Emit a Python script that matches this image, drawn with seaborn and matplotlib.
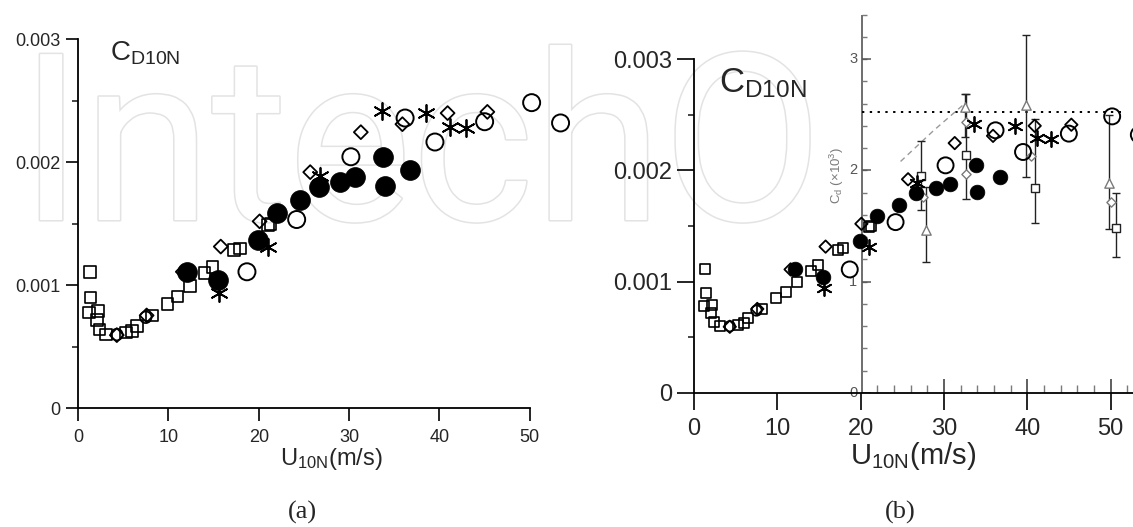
import numpy as np
import pandas as pd
import seaborn as sns
import matplotlib.pyplot as plt
import matplotlib.patheffects as pe
from matplotlib.patches import Rectangle
from matplotlib.ticker import MultipleLocator

# drag coefficient data, C_D10N in units of 1e-3, wind speed in m/s
sq_u = [1.3, 1.4, 1.2, 2.2, 2.1, 2.4, 3.1, 5.3, 6.0, 6.5, 8.2, 9.9, 11.0, 12.4, 14.0, 14.9, 17.3, 17.9, 21.0, 21.3]
sq_cd = [1.11, 0.90, 0.78, 0.79, 0.72, 0.64, 0.60, 0.615, 0.63, 0.67, 0.755, 0.85, 0.91, 0.995, 1.10, 1.15, 1.285, 1.30, 1.49, 1.50]

dia_u = [4.3, 7.6, 11.6, 15.8, 20.1, 25.7, 31.3, 35.9, 40.9, 45.3]
dia_cd = [0.595, 0.755, 1.11, 1.315, 1.52, 1.92, 2.245, 2.31, 2.40, 2.41]

circ_u = [18.7, 24.2, 30.2, 36.2, 39.5, 45.0, 50.2, 53.4]
circ_cd = [1.11, 1.535, 2.045, 2.36, 2.165, 2.33, 2.485, 2.32]

small_circ_u = [4.3, 7.5]
small_circ_cd = [0.60, 0.74]

dot_u = [12.1, 15.5, 19.9, 22.0, 24.6, 26.7, 29.0, 30.7, 33.8, 34.0, 36.7]
dot_cd = [1.11, 1.045, 1.365, 1.59, 1.69, 1.80, 1.84, 1.88, 2.045, 1.81, 1.94]

star_u = [15.6, 21.0, 26.8, 33.6, 38.5, 41.2, 42.9]
star_cd = [0.94, 1.31, 1.89, 2.42, 2.40, 2.29, 2.28]

# scanned comparison plot pasted into panel (b), Cd x 10^3
ov_sq_u = [27.3, 32.7, 40.9, 50.7]
ov_sq_cd = [1.95, 2.14, 1.84, 1.48]
ov_sq_lo = [1.64, 1.74, 1.53, 1.22]
ov_sq_hi = [2.26, 2.69, 2.46, 1.80]

ov_tri_u = [27.9, 32.5, 39.9, 49.8]
ov_tri_cd = [1.46, 2.57, 2.59, 1.89]
ov_tri_lo = [1.18, 2.30, 1.94, 1.47]
ov_tri_hi = [1.85, 2.69, 3.22, 2.50]

ov_dia_u = [27.5, 32.6, 32.6, 40.4, 50.1]
ov_dia_cd = [1.76, 2.43, 1.97, 2.13, 1.72]

ov_ref_level = 2.52
ov_line_u = [24.8, 28.8, 32.5]
ov_line_cd = [2.08, 2.36, 2.60]

yticks = [0, 1, 2, 3]
ytick_labels = ['0', '0.001', '0.002', '0.003']
xticks = [0, 10, 20, 30, 40, 50]

sns.set_style('ticks')
plt.rcParams['font.family'] = ['Liberation Sans', 'DejaVu Sans']
plt.rcParams['mathtext.default'] = 'regular'

fig = plt.figure(figsize=(11.33, 5.27), dpi=100)
fig.patch.set_facecolor('white')

# watermark behind both panels (the rest of it is hidden under the pasted plot)
fig.text(0.017, 0.5825, 'IntechO', family='Roboto', fontsize=168, color='white',
         va='baseline', ha='left', zorder=-1,
         path_effects=[pe.withStroke(linewidth=2.2, foreground='#e3e3e3')])

ax_a = fig.add_axes([0.0688, 0.2252, 0.4467, 0.7469])
ax_b = fig.add_axes([0.6125, 0.2543, 0.3875, 0.7287])


def draw_data(ax, sz):
    sns.scatterplot(x=sq_u, y=sq_cd, ax=ax, marker='s', s=sz['sq'], facecolor='none',
                    edgecolor='black', linewidth=1.2, zorder=4)
    sns.scatterplot(x=dia_u, y=dia_cd, ax=ax, marker='D', s=sz['dia'], facecolor='none',
                    edgecolor='black', linewidth=1.3, zorder=4)
    sns.scatterplot(x=small_circ_u, y=small_circ_cd, ax=ax, marker='o', s=sz['dia'] * 1.4,
                    facecolor='none', edgecolor='black', linewidth=1.2, zorder=4)
    sns.scatterplot(x=circ_u, y=circ_cd, ax=ax, marker='o', s=sz['circ'], facecolor='none',
                    edgecolor='black', linewidth=1.4, zorder=4)
    sns.scatterplot(x=dot_u, y=dot_cd, ax=ax, marker='o', s=sz['dot'], color='black',
                    edgecolor='black', linewidth=0.5, zorder=5)
    sns.scatterplot(x=star_u, y=star_cd, ax=ax, marker=(6, 2, 0), s=sz['star'], color='black',
                    linewidth=1.3, zorder=5)


def style_axes(ax, xmax, ymax, fs_tick, fs_lab, tick_len, minor_len, pad_x):
    ax.set_facecolor('none')
    ax.set_xlim(0, xmax)
    ax.set_ylim(0, ymax)
    ax.set_xticks(xticks)
    ax.set_yticks(yticks)
    ax.set_yticklabels(ytick_labels)
    ax.yaxis.set_minor_locator(MultipleLocator(0.5))
    ax.tick_params(axis='both', which='major', direction='out', length=tick_len, width=1.2,
                   labelsize=fs_tick, color='black')
    ax.tick_params(axis='x', pad=pad_x)
    ax.tick_params(axis='y', which='minor', direction='out', length=minor_len, width=1.2)
    sns.despine(ax=ax)
    for side in ['left', 'bottom']:
        ax.spines[side].set_linewidth(1.3)
        ax.spines[side].set_color('black')
    ax.spines['left'].set_bounds(0, 3)
    ax.set_xlabel('U$_{10N}$(m/s)', fontsize=fs_lab, labelpad=0)
    ax.set_ylabel('')


# panel (a)
draw_data(ax_a, {'sq': 70, 'dia': 50, 'circ': 150, 'dot': 205, 'star': 150})
style_axes(ax_a, 56, 3.2, 13, 17, 9, 4.5, 6)
ax_a.spines['bottom'].set_bounds(0, 50)
ax_a.text(3.5, 2.83, 'C$_{D10N}$', fontsize=20)

# panel (b): pasted comparison figure underneath the data
ax_b.add_patch(Rectangle((17.2, 0.01), 40, 3.6, facecolor='white', edgecolor='none', zorder=1))
gray = '#7a7a7a'
ax_b.vlines(20.2, 0, 3.40, color='#555555', lw=1.2, zorder=2)
minor_y = np.arange(0, 3.41, 0.2)
ax_b.hlines(minor_y, 20.2, 20.8, color=gray, lw=1.0, zorder=2)
ax_b.hlines(yticks, 20.2, 21.2, color='#555555', lw=1.1, zorder=2)
for t in yticks:
    ax_b.text(19.1, t, str(t), color='#555555', fontsize=10.5, ha='center', va='center', zorder=2)
ax_b.text(17.1, 1.95, 'C$_d$ (×10$^3$)', color=gray, fontsize=9.5, rotation=90,
          ha='center', va='center', zorder=2)
minor_x = [u for u in range(22, 53, 2) if u % 10 != 0]
ax_b.vlines(minor_x, 0, 0.07, color=gray, lw=1.0, zorder=2)
ax_b.vlines([30, 40, 50], 0, 0.13, color='#444444', lw=1.2, zorder=2)
ax_b.hlines(ov_ref_level, 20.2, 51.3, color='black', lw=1.4, linestyles=(0, (1.2, 2.8)), zorder=2)
ax_b.plot(ov_line_u, ov_line_cd, color='#9a9a9a', lw=1.0, ls=(0, (4, 3)), zorder=2)

ov_tri_err = [np.subtract(ov_tri_cd, ov_tri_lo), np.subtract(ov_tri_hi, ov_tri_cd)]
ax_b.errorbar(ov_tri_u, ov_tri_cd, yerr=ov_tri_err, fmt='none', ecolor='#222222',
              elinewidth=1.0, capsize=3.2, capthick=1.0, zorder=2)
ov_sq_err = [np.subtract(ov_sq_cd, ov_sq_lo), np.subtract(ov_sq_hi, ov_sq_cd)]
ax_b.errorbar(ov_sq_u, ov_sq_cd, yerr=ov_sq_err, fmt='none', ecolor='#222222',
              elinewidth=1.0, capsize=3.2, capthick=1.0, zorder=2)
sns.scatterplot(x=ov_tri_u, y=ov_tri_cd, ax=ax_b, marker='^', s=45, facecolor='white',
                edgecolor=gray, linewidth=1.0, zorder=3)
sns.scatterplot(x=ov_dia_u, y=ov_dia_cd, ax=ax_b, marker='D', s=22, facecolor='white',
                edgecolor=gray, linewidth=1.0, zorder=3)
sns.scatterplot(x=ov_sq_u, y=ov_sq_cd, ax=ax_b, marker='s', s=38, facecolor='white',
                edgecolor='#222222', linewidth=1.0, zorder=3)

draw_data(ax_b, {'sq': 52, 'dia': 40, 'circ': 132, 'dot': 112, 'star': 117})
style_axes(ax_b, 52.7, 3.45, 17, 21, 12, 4.5, 6)
ax_b.text(3.0, 2.70, 'C$_{D10N}$', fontsize=25)

fig.text(0.2665, 0.0285, '(a)', family='Liberation Serif', fontsize=19, ha='center', va='center')
fig.text(0.7945, 0.0285, '(b)', family='Liberation Serif', fontsize=19, ha='center', va='center')

fig.savefig('out.png', dpi=100)
